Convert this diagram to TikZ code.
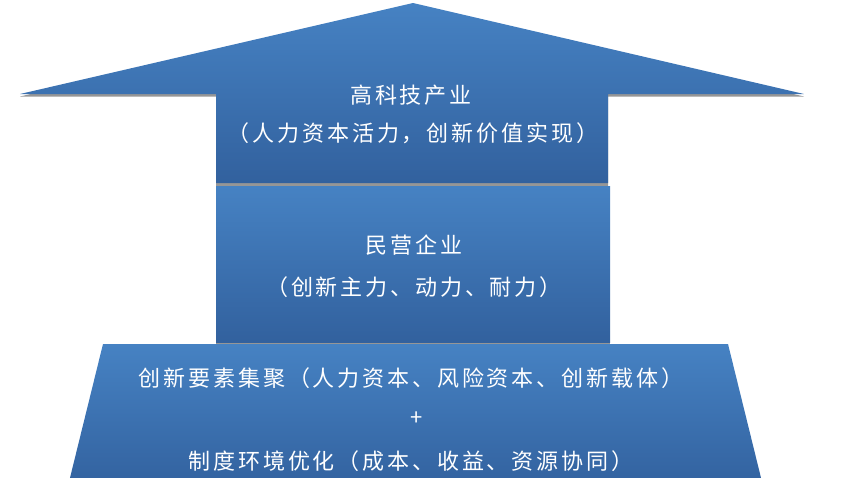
\documentclass[tikz,border=0pt]{standalone}
\usepackage{fontspec}
\newfontfamily\cjk[LetterSpace=13]{Noto Sans CJK SC}
\definecolor{bluetop}{RGB}{70,130,195}
\definecolor{bluebot}{RGB}{50,97,158}
\definecolor{shadowgray}{RGB}{150,150,150}
\tikzset{
  blk/.style={top color=bluetop, bottom color=bluebot, draw=none},
  shd/.style={fill=shadowgray, draw=none},
  lbl/.style={text=white, font=\cjk\fontsize{22}{26}\selectfont, inner sep=0pt, anchor=center},
  plus/.style={text=white, font=\cjk\fontsize{22}{26}\selectfont, inner sep=0pt, anchor=center}
}
\begin{document}
\begin{tikzpicture}[x=1pt,y=-1pt]
\useasboundingbox (0,0) rectangle (848,477);
% shadows
\fill[shd] (20,96.5) -- (413,5.5) -- (804,96.5) -- (608,96.5) -- (608,186) -- (216,186) -- (216,96.5) -- cycle;
\fill[shd] (216,189) rectangle (610,345);
% arrow head + shaft
\shade[blk] (20,94) -- (413,3) -- (804,94) -- (608,94) -- (608,183) -- (216,183) -- (216,94) -- cycle;
% middle block
\shade[blk] (216,186) rectangle (610,342);
% bottom trapezoid
\shade[blk] (103,344) -- (728,344) -- (764,490) -- (67,490) -- cycle;
% texts
\node[lbl] (t1) at (411,95) {高科技产业};
\node[lbl] (t2) at (413,133) {（人力资本活力，创新价值实现）};
\node[lbl] (m1) at (414,245) {民营企业};
\node[lbl] (m2) at (414,287) {（创新主力、动力、耐力）};
\node[lbl] (b1) at (411,378) {创新要素集聚（人力资本、风险资本、创新载体）};
\node[plus] (b2) at (417,419) {+};
\node[lbl] (b3) at (411,461) {制度环境优化（成本、收益、资源协同）};
\end{tikzpicture}
\end{document}
